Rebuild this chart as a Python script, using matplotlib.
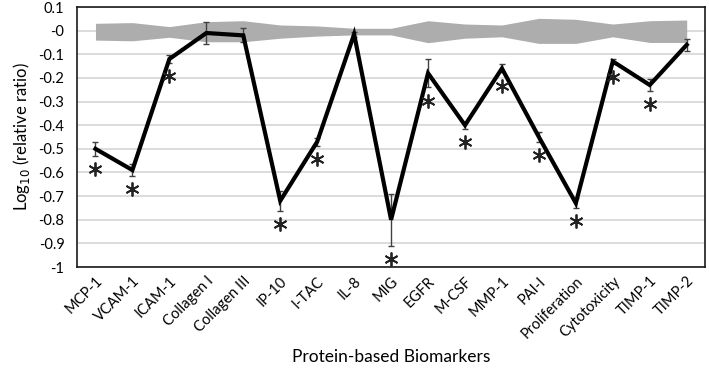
import numpy as np
import matplotlib.pyplot as plt

plt.rcParams['font.family'] = ['Lato', 'DejaVu Sans']
plt.rcParams['axes.unicode_minus'] = False

markers = ['MCP-1', 'VCAM-1', 'ICAM-1', 'Collagen I', 'Collagen III', 'IP-10',
           'I-TAC', 'IL-8', 'MIG', 'EGFR', 'M-CSF', 'MMP-1', 'PAI-I',
           'Proliferation', 'Cytotoxicity', 'TIMP-1', 'TIMP-2']
log_ratio = [-0.50, -0.59, -0.12, -0.01, -0.02, -0.72, -0.47, -0.015, -0.80,
             -0.18, -0.40, -0.16, -0.45, -0.73, -0.13, -0.23, -0.06]
err = [0.03, 0.025, 0.015, 0.045, 0.03, 0.042, 0.017, 0.01, 0.11,
       0.06, 0.015, 0.017, 0.02, 0.02, 0.01, 0.025, 0.026]
significant = [1, 1, 1, 0, 0, 1, 1, 0, 1, 1, 1, 1, 1, 1, 1, 1, 0]
# 対照群のばらつき（灰色の帯）
band_upper = [0.031, 0.034, 0.017, 0.038, 0.042, 0.024, 0.020, 0.010, 0.010,
              0.042, 0.028, 0.024, 0.052, 0.048, 0.028, 0.042, 0.045]
band_lower = [-0.040, -0.043, -0.028, -0.047, -0.047, -0.032, -0.023, -0.018, -0.018,
              -0.051, -0.032, -0.026, -0.054, -0.054, -0.026, -0.050, -0.050]

x = np.arange(len(markers))
y = np.array(log_ratio)
e = np.array(err)

fig = plt.figure(figsize=(7.09, 3.79), dpi=100)
ax = fig.add_axes([0.1086, 0.2955, 0.886, 0.686])

ax.fill_between(x, band_lower, band_upper, color='#adadad', lw=0, zorder=2)
ax.errorbar(x, y, yerr=e, fmt='none', ecolor='#404040', elinewidth=1,
            capsize=2.5, capthick=1, zorder=3)
ax.plot(x, y, color='black', lw=3, zorder=4, solid_joinstyle='miter')

sig = np.array(significant, dtype=bool)
ax.plot(x[sig], (y - e - 0.057)[sig], ls='none', marker=(6, 2, 0),
        markersize=10, mew=1.3, color='#222222', zorder=5)

ax.set_xlim(-0.5, len(markers) - 0.5)
ax.set_ylim(-1, 0.1)
yt = np.round(np.arange(-1, 0.11, 0.1), 1)
ax.set_yticks(yt)
ax.set_yticklabels([f'{v:g}' for v in yt], fontsize=10.5)
ax.set_xticks(x)
ax.set_xticklabels(markers, rotation=45, ha='right', rotation_mode='anchor',
                   fontsize=10.5)
ax.tick_params(axis='both', length=0)
ax.tick_params(axis='y', pad=9)
ax.tick_params(axis='x', pad=5)
ax.yaxis.grid(True, color='#d9d9d9', lw=1.3, zorder=0)
ax.set_axisbelow(True)
for s in ax.spines.values():
    s.set_color('#1a1a1a')
    s.set_linewidth(1.2)

ax.set_ylabel('Log$_{10}$ (relative ratio)', fontsize=12, labelpad=5)
ax.set_xlabel('Protein-based Biomarkers', fontsize=12.5, labelpad=6)

fig.savefig('out.png', dpi=100)
